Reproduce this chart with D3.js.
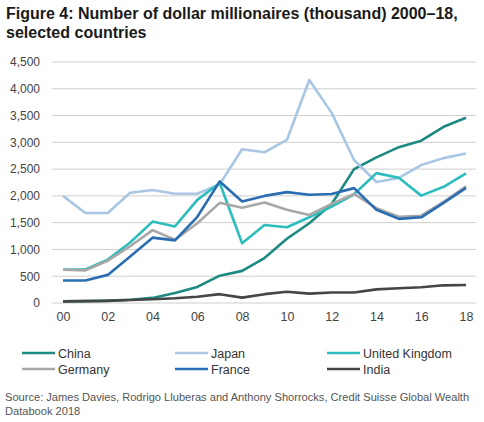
<!DOCTYPE html>
<html><head><meta charset="utf-8">
<script src="https://cdn.jsdelivr.net/npm/d3@7"></script>
<style>body{margin:0;background:#fff;}svg{display:block;font-family:"Liberation Sans",Arial,sans-serif;}</style>
</head><body><svg id="c" width="484" height="422"></svg>
<script>
const years = [2000,2001,2002,2003,2004,2005,2006,2007,2008,2009,2010,2011,2012,2013,2014,2015,2016,2017,2018];
const xTickLabels = ["00","02","04","06","08","10","12","14","16","18"];
const yTicks = [0,500,1000,1500,2000,2500,3000,3500,4000,4500];
const china   = [30,35,45,60,95,185,300,510,600,840,1200,1490,1850,2500,2720,2910,3030,3290,3460];
const japan   = [2000,1680,1680,2060,2110,2040,2040,2220,2870,2815,3045,4165,3550,2670,2260,2335,2575,2705,2790];
const uk      = [625,625,810,1130,1520,1430,1925,2240,1115,1455,1415,1600,1800,2030,2425,2340,2005,2170,2420];
const germany = [620,610,790,1060,1360,1180,1490,1870,1780,1875,1740,1645,1850,2035,1770,1610,1630,1890,2180];
const france  = [420,420,525,870,1220,1170,1610,2270,1895,2000,2070,2020,2035,2145,1740,1570,1600,1870,2150];
const india   = [30,35,40,55,70,88,118,165,100,165,210,175,195,195,255,275,295,330,335];
const seriesNames = ["China","Japan","United Kingdom","Germany","France","India"];
const seriesData = [china, japan, uk, germany, france, india];
const seriesColors = ["#1d8a82","#a9c6e3","#2dbdbd","#a8a8a8","#2a6db3","#454545"];

const svg = d3.select("#c");
const x = d3.scaleLinear().domain([2000,2018]).range([63,466]);
const y = d3.scaleLinear().domain([0,4500]).range([303,62]);

// title
const t = svg.append("text").attr("font-weight","bold").attr("font-size",16).attr("fill","#1a1a1a");
t.append("tspan").attr("x",6).attr("y",19).text("Figure 4: Number of dollar millionaires (thousand) 2000–18,");
t.append("tspan").attr("x",6).attr("y",38).text("selected countries");

// grid
svg.append("g").selectAll("line").data(yTicks).join("line")
  .attr("x1",52).attr("x2",476).attr("y1",d=>y(d)).attr("y2",d=>y(d))
  .attr("stroke","#cfcfcf").attr("stroke-width",1);

// y axis labels
const yAxis = d3.axisLeft(y).tickValues(yTicks).tickFormat(d3.format(",")).tickSize(0).tickPadding(0);
const ya = svg.append("g").attr("transform","translate(40,0)").call(yAxis);
ya.select(".domain").remove();
ya.selectAll("text").attr("font-size",12).attr("fill","#444").attr("font-family","'Liberation Sans',Arial,sans-serif");

// x axis labels
const xAxis = d3.axisBottom(x).tickValues(d3.range(2000,2019,2)).tickFormat((d,i)=>xTickLabels[i]).tickSize(0).tickPadding(0);
const xa = svg.append("g").attr("transform","translate(0,312)").call(xAxis);
xa.select(".domain").remove();
xa.selectAll("text").attr("font-size",12.5).attr("fill","#444").attr("font-family","'Liberation Sans',Arial,sans-serif");

// lines
const line = d3.line().x((d,i)=>x(years[i])).y(d=>y(d));
svg.append("g").selectAll("path").data(seriesData).join("path")
  .attr("d",line).attr("fill","none")
  .attr("stroke",(d,i)=>seriesColors[i]).attr("stroke-width",2.6).attr("stroke-linejoin","round");

// legend
const legX = [22,175,327], legY = [353,369];
const lg = svg.append("g").selectAll("g").data(seriesNames).join("g")
  .attr("transform",(d,i)=>`translate(${legX[i%3]},${legY[Math.floor(i/3)]})`);
lg.append("line").attr("x1",0).attr("x2",33).attr("y1",0).attr("y2",0)
  .attr("stroke",(d,i)=>seriesColors[i]).attr("stroke-width",2.6);
lg.append("text").attr("x",36).attr("y",4.5).attr("font-size",12.5).attr("fill","#333").text(d=>d);

// source
svg.append("text").attr("x",5).attr("y",401).attr("font-size",11.1).attr("fill","#555")
  .text("Source: James Davies, Rodrigo Lluberas and Anthony Shorrocks, Credit Suisse Global Wealth");
svg.append("text").attr("x",5).attr("y",415).attr("font-size",11.1).attr("fill","#555")
  .text("Databook 2018");
</script></body></html>
